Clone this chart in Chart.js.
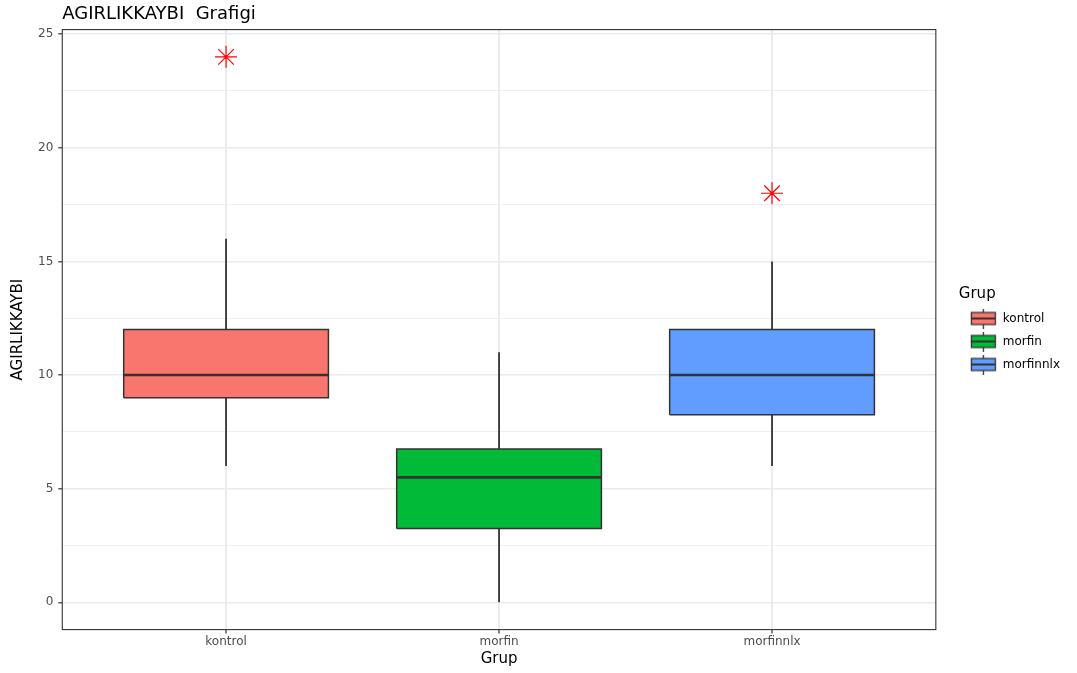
<!DOCTYPE html>
<html>
<head>
<meta charset="utf-8">
<script src="https://cdn.jsdelivr.net/npm/chart.js@4.4.1/dist/chart.umd.min.js"></script>
<style>
    html, body { margin: 0; padding: 0; background: #ffffff; }
    #wrap { width: 1077px; height: 673px; }
</style>
</head>
<body>
<div id="wrap"><canvas id="boxChart" width="1077" height="673"></canvas></div>
<script>
    // groups and five-number summaries
    const groups = ['kontrol', 'morfin', 'morfinnlx'];
    const whiskerLow = [6, 0, 6];
    const lowerQuartile = [9, 3.25, 8.25];
    const medians = [10, 5.5, 10];
    const upperQuartile = [12, 6.75, 12];
    const whiskerHigh = [16, 11, 15];
    const outliers = [[24], [], [18]];

    const colors = ['#F8766D', '#00BA38', '#619CFF'];
    const majorTicks = [0, 5, 10, 15, 20, 25];
    const minorTicks = [2.5, 7.5, 12.5, 17.5, 22.5];

    const halfBox = 0.375;
    const edge = '#333333';

    function buildDatasets() {
        const sets = [];
        groups.forEach(function (name, i) {
            const x = i + 1;
            // whisker (drawn under the box)
            sets.push({
                data: [{ x: x, y: whiskerLow[i] }, { x: x, y: whiskerHigh[i] }],
                borderColor: edge, borderWidth: 1.8, pointRadius: 0, order: 5
            });
            // box fill between quartiles
            sets.push({
                data: [{ x: x - halfBox, y: upperQuartile[i] }, { x: x + halfBox, y: upperQuartile[i] }],
                borderWidth: 0, pointRadius: 0, backgroundColor: colors[i],
                fill: { value: lowerQuartile[i] }, order: 4
            });
            // box outline
            sets.push({
                data: [
                    { x: x - halfBox, y: lowerQuartile[i] },
                    { x: x + halfBox, y: lowerQuartile[i] },
                    { x: x + halfBox, y: upperQuartile[i] },
                    { x: x - halfBox, y: upperQuartile[i] },
                    { x: x - halfBox, y: lowerQuartile[i] }
                ],
                borderColor: edge, borderWidth: 1.5, borderJoinStyle: 'miter',
                pointRadius: 0, order: 3
            });
            // median
            sets.push({
                data: [{ x: x - halfBox, y: medians[i] }, { x: x + halfBox, y: medians[i] }],
                borderColor: edge, borderWidth: 2.6, pointRadius: 0, order: 2
            });
            // outliers
            sets.push({
                data: outliers[i].map(function (v) { return { x: x, y: v }; }),
                showLine: false, pointStyle: 'star', pointRadius: 11,
                borderColor: '#FF0000', backgroundColor: '#FF0000', borderWidth: 1.2, order: 1
            });
        });
        return sets;
    }

    // little boxplot glyphs for the legend keys
    function legendKey(color) {
        const c = document.createElement('canvas');
        c.width = 27;
        c.height = 20;
        const g = c.getContext('2d');
        g.strokeStyle = edge;
        g.lineWidth = 1.3;
        g.beginPath();
        g.moveTo(13.5, 0);
        g.lineTo(13.5, 20);
        g.stroke();
        g.fillStyle = color;
        g.fillRect(1.5, 4, 24, 12);
        g.strokeRect(1.5, 4, 24, 12);
        g.lineWidth = 2;
        g.beginPath();
        g.moveTo(1.5, 10);
        g.lineTo(25.5, 10);
        g.stroke();
        return c;
    }

    const panelBorder = {
        id: 'panelBorder',
        afterDatasetsDraw(chart) {
            const a = chart.chartArea;
            const ctx = chart.ctx;
            ctx.save();
            ctx.strokeStyle = edge;
            ctx.lineWidth = 1.1;
            ctx.strokeRect(a.left, a.top, a.right - a.left, a.bottom - a.top);
            ctx.restore();
        }
    };

    const ctx = document.getElementById('boxChart').getContext('2d');
    new Chart(ctx, {
        type: 'line',
        data: { datasets: buildDatasets() },
        plugins: [panelBorder],
        options: {
            responsive: false,
            animation: false,
            layout: { padding: { left: 6, right: 7, top: 0, bottom: 5 } },
            scales: {
                x: {
                    type: 'linear',
                    min: 0.4,
                    max: 3.6,
                    afterBuildTicks: function (scale) {
                        scale.ticks = groups.map(function (g, i) { return { value: i + 1 }; });
                    },
                    ticks: {
                        callback: function (value) { return groups[value - 1]; },
                        color: '#4d4d4d',
                        font: { family: 'DejaVu Sans', size: 12 },
                        padding: 1,
                        maxRotation: 0
                    },
                    grid: {
                        color: '#ebebeb', lineWidth: 2,
                        tickLength: 4, tickColor: edge, tickWidth: 1.2
                    },
                    border: { display: false },
                    title: {
                        display: true, text: 'Grup', color: '#000000',
                        font: { family: 'DejaVu Sans', size: 15 },
                        padding: { top: 0, bottom: 0 }
                    }
                },
                y: {
                    type: 'linear',
                    min: -1.2,
                    max: 25.2,
                    afterBuildTicks: function (scale) {
                        scale.ticks = majorTicks.concat(minorTicks)
                            .sort(function (a, b) { return a - b; })
                            .map(function (v) { return { value: v }; });
                    },
                    ticks: {
                        callback: function (value) { return majorTicks.includes(value) ? String(value) : ''; },
                        color: '#4d4d4d',
                        font: { family: 'DejaVu Sans', size: 12 },
                        padding: 5
                    },
                    grid: {
                        color: '#ebebeb',
                        lineWidth: function (c) { return majorTicks.includes(c.tick.value) ? 1.6 : 0.8; },
                        tickLength: 4,
                        tickColor: function (c) { return majorTicks.includes(c.tick.value) ? edge : 'rgba(0,0,0,0)'; },
                        tickWidth: 1.2
                    },
                    border: { display: false },
                    title: {
                        display: true, text: 'AGIRLIKKAYBI', color: '#000000',
                        font: { family: 'DejaVu Sans', size: 15 },
                        padding: { top: 3, bottom: 6 }
                    }
                },
                // empty strip between panel and legend
                gap: {
                    type: 'linear',
                    position: 'right',
                    display: true,
                    ticks: { display: false },
                    grid: { display: false, drawTicks: false },
                    border: { display: false },
                    afterFit: function (scale) { scale.width = 23; }
                }
            },
            plugins: {
                title: {
                    display: true,
                    text: 'AGIRLIKKAYBI  Grafigi',
                    align: 'start',
                    fullSize: false,
                    color: '#000000',
                    font: { family: 'DejaVu Sans', size: 18, weight: 'normal' },
                    padding: { top: 4, bottom: 4 }
                },
                legend: {
                    position: 'right',
                    align: 'center',
                    title: {
                        display: true, text: 'Grup', position: 'start', color: '#000000',
                        font: { family: 'DejaVu Sans', size: 15, lineHeight: 1 }, padding: 0
                    },
                    labels: {
                        usePointStyle: true,
                        boxWidth: 27,
                        pointStyleWidth: 27,
                        padding: 11,
                        color: '#1a1a1a',
                        font: { family: 'DejaVu Sans', size: 12 },
                        generateLabels: function () {
                            return groups.map(function (g, i) {
                                return {
                                    text: g, pointStyle: legendKey(colors[i]),
                                    fillStyle: colors[i], strokeStyle: edge,
                                    lineWidth: 0, hidden: false, datasetIndex: i
                                };
                            });
                        }
                    }
                },
                tooltip: { enabled: false }
            }
        }
    });
</script>
</body>
</html>
